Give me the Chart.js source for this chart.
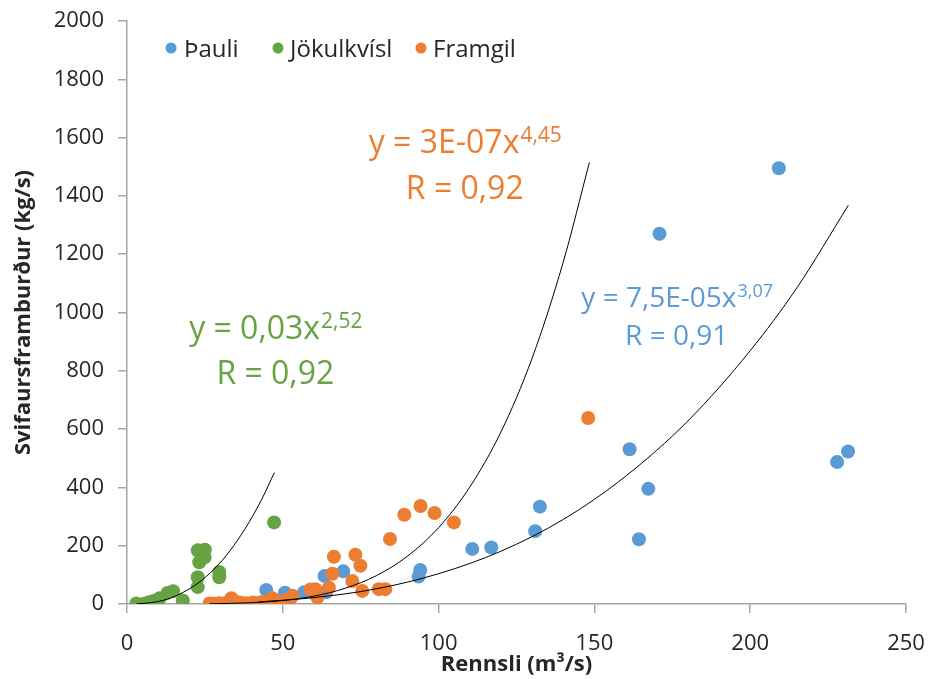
<!DOCTYPE html>
<html>
<head>
<meta charset="utf-8">
<script src="https://cdn.jsdelivr.net/npm/chart.js@4.4.1/dist/chart.umd.min.js"></script>
<style>
  html, body { margin: 0; padding: 0; background: #fff; }
  #wrap { width: 929px; height: 679px; }
</style>
</head>
<body>
<div id="wrap"><canvas id="chart" width="929" height="679"></canvas></div>
<script>
// series names
const seriesNames = ['Þauli', 'Jökulkvísl', 'Framgil'];

// measured points [Rennsli m3/s, Svifaursframburður kg/s]
const pauliPts = [
  [42.2, 3], [44.7, 48], [47.2, 4], [50.7, 39], [56.8, 40], [63.4, 96], [63.9, 40],
  [69.4, 112], [93.6, 94], [94.1, 117], [110.8, 189], [116.9, 194], [131.0, 250],
  [132.5, 334], [161.3, 531], [164.3, 222], [167.3, 395], [170.9, 1270], [209.2, 1495],
  [227.9, 487], [231.4, 523]
];
const jokulPts = [
  [3.0, 2], [5.5, 1], [7, 6], [8.5, 10], [10.5, 20], [13, 38], [14.8, 44], [17.9, 12],
  [22.7, 58], [22.7, 92], [23.2, 143], [22.7, 184], [25.0, 186], [24.9, 160],
  [29.6, 110], [29.6, 92], [47.2, 280]
];
const framgilPts = [
  [26.5, 2], [28, 1], [29.5, 3], [31, 2], [32.5, 6], [33.5, 20], [35, 8], [36.5, 4],
  [38.5, 3], [40.5, 5], [43, 6], [45, 10], [46.7, 20], [49, 8], [51, 12], [52.5, 20],
  [53.1, 28], [58.9, 50], [60.5, 33], [60.5, 51], [61.1, 22], [64.8, 56], [65.9, 104],
  [66.4, 162], [72.3, 79], [73.3, 169], [74.9, 131], [75.5, 45], [80.8, 51], [82.9, 51],
  [84.4, 223], [89.0, 306], [94.2, 336], [98.7, 312], [104.9, 280], [148.0, 638]
];

// power trendlines, points
const pauliTrend = [
  [42.2, 7], [60, 22], [80, 52], [100, 104], [120, 181], [140, 290], [160, 438],
  [180, 628], [200, 869], [215, 1085], [231.5, 1368]
];
const jokulTrend = [
  [3, 0.4], [8, 5], [13, 17], [18, 40], [23, 73], [28, 120], [33, 182], [38, 260],
  [43, 354], [47.3, 451]
];
const framgilTrend = [
  [26.5, 0.7], [40, 4.5], [50, 12], [60, 27], [70, 54], [80, 97], [90, 164], [100, 262],
  [110, 401], [120, 590], [130, 843], [140, 1173], [148.4, 1515]
];

// trendline labels
const pauliEq = ['y = 7,5E-05x', '3,07', 'R = 0,91'];
const jokulEq = ['y = 0,03x', '2,52', 'R = 0,92'];
const framgilEq = ['y = 3E-07x', '4,45', 'R = 0,92'];

// axis ticks
const xTicks = [0, 50, 100, 150, 200, 250];
const yTicks = [0, 200, 400, 600, 800, 1000, 1200, 1400, 1600, 1800, 2000];

const BLUE = '#5B9BD5', GREEN = '#67A343', ORANGE = '#ED7D31';
const AXIS = '#a6a6a6', TXT = '#262626';
const FONT = "'Open Sans', 'Noto Sans', sans-serif";

const toXY = arr => arr.map(p => ({ x: p[0], y: p[1] }));

function pointSet(label, pts, color, order) {
  return {
    label: label, data: toXY(pts), order: order,
    backgroundColor: color, borderColor: color,
    pointRadius: 7, pointBorderWidth: 0, showLine: false
  };
}
function trendSet(pts) {
  return {
    label: 'trend', data: toXY(pts), order: 0, type: 'line',
    borderColor: '#000', borderWidth: 1, pointRadius: 0, fill: false,
    tension: 0.4, cubicInterpolationMode: 'monotone'
  };
}

// legend drawn inside the plot, like the original
const legendPlugin = {
  id: 'innerLegend',
  afterDraw(chart, args, opts) {
    const c = chart.ctx;
    c.save();
    c.font = '24px ' + FONT;
    c.textBaseline = 'alphabetic';
    opts.items.forEach((it, i) => {
      c.fillStyle = it.color;
      c.beginPath();
      c.arc(it.dot, opts.y, 5.5, 0, Math.PI * 2);
      c.fill();
      c.fillStyle = TXT;
      c.fillText(seriesNames[i], it.text, opts.y + 9);
    });
    c.restore();
  }
};

// trendline equations with superscript exponent
const eqPlugin = {
  id: 'equations',
  afterDraw(chart, args, opts) {
    const c = chart.ctx, sx = chart.scales.x, sy = chart.scales.y;
    c.save();
    opts.items.forEach(it => {
      const cx = sx.getPixelForValue(it.x);
      const b1 = sy.getPixelForValue(it.y1);
      const b2 = sy.getPixelForValue(it.y2);
      const supSize = Math.round(it.size * 0.66);
      c.fillStyle = it.color;
      c.textBaseline = 'alphabetic';
      c.font = it.size + 'px ' + FONT;
      const w1 = c.measureText(it.eq[0]).width;
      c.font = supSize + 'px ' + FONT;
      const w2 = c.measureText(it.eq[1]).width;
      const x0 = cx - (w1 + w2) / 2;
      c.textAlign = 'left';
      c.font = it.size + 'px ' + FONT;
      c.fillText(it.eq[0], x0, b1);
      c.font = supSize + 'px ' + FONT;
      c.fillText(it.eq[1], x0 + w1 + 1, b1 - it.size * 0.34);
      c.textAlign = 'center';
      c.font = it.size + 'px ' + FONT;
      c.fillText(it.eq[2], cx, b2);
    });
    c.restore();
  }
};

new Chart(document.getElementById('chart'), {
  type: 'scatter',
  data: {
    datasets: [
      trendSet(pauliTrend), trendSet(jokulTrend), trendSet(framgilTrend),
      pointSet(seriesNames[2], framgilPts, ORANGE, 1),
      pointSet(seriesNames[1], jokulPts, GREEN, 2),
      pointSet(seriesNames[0], pauliPts, BLUE, 3)
    ]
  },
  options: {
    responsive: false,
    animation: false,
    layout: { padding: { top: 21, right: 23, left: 0, bottom: 0 } },
    plugins: {
      legend: { display: false },
      tooltip: { enabled: false },
      innerLegend: {
        y: 48,
        items: [
          { dot: 171, text: 184, color: BLUE },
          { dot: 278, text: 290, color: GREEN },
          { dot: 421, text: 433, color: ORANGE }
        ]
      },
      equations: {
        items: [
          { eq: framgilEq, x: 108.4, y1: 1548, y2: 1391, size: 32, color: ORANGE },
          { eq: jokulEq, x: 47.6, y1: 908, y2: 756, size: 32, color: GREEN },
          { eq: pauliEq, x: 176.4, y1: 1020, y2: 890, size: 28, color: BLUE }
        ]
      }
    },
    scales: {
      x: {
        type: 'linear', min: xTicks[0], max: xTicks[xTicks.length - 1],
        afterBuildTicks: s => { s.ticks = xTicks.map(v => ({ value: v })); },
        ticks: { color: TXT, font: { family: FONT, size: 22 }, padding: 18,
                 callback: v => String(v) },
        grid: { drawOnChartArea: false, drawTicks: true, tickLength: 9, color: AXIS, lineWidth: 1.5 },
        border: { color: AXIS, width: 1.5 },
        title: { display: true, text: 'Rennsli (m³/s)', color: TXT,
                 font: { family: FONT, size: 22, weight: 'bold' }, padding: { top: 0, bottom: 1 } },
        afterFit: s => { s.height = 75; s.paddingLeft = 0; s.paddingRight = 0; }
      },
      y: {
        type: 'linear', min: yTicks[0], max: yTicks[yTicks.length - 1],
        afterBuildTicks: s => { s.ticks = yTicks.map(v => ({ value: v })); },
        ticks: { color: TXT, font: { family: FONT, size: 22 }, padding: 14,
                 callback: v => String(v) },
        grid: { drawOnChartArea: false, drawTicks: true, tickLength: 9, color: AXIS, lineWidth: 1.5 },
        border: { color: AXIS, width: 1.5 },
        title: { display: true, text: 'Svifaursframburður (kg/s)', color: TXT,
                 font: { family: FONT, size: 22, weight: 'bold' }, padding: { top: 11, bottom: 4 } },
        afterFit: s => { s.width = 127; s.paddingTop = 0; s.paddingBottom = 0; }
      }
    }
  },
  plugins: [legendPlugin, eqPlugin]
});
</script>
</body>
</html>
